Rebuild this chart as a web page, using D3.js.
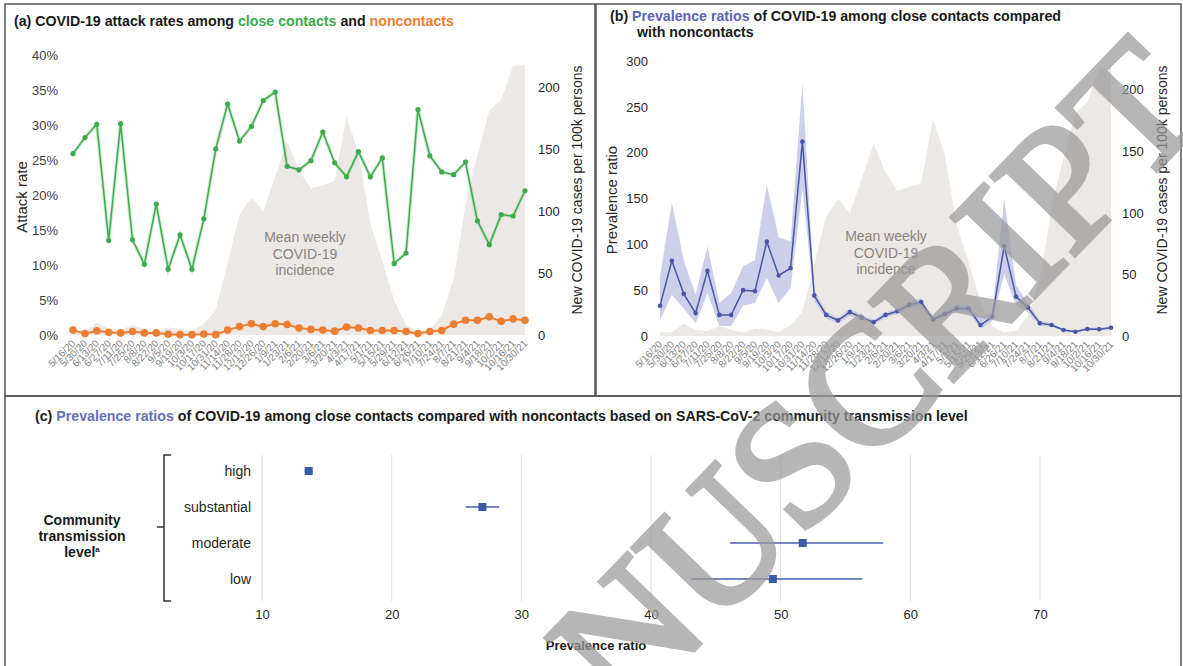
<!DOCTYPE html>
<html>
<head>
<meta charset="utf-8">
<script src="https://cdn.jsdelivr.net/npm/d3@7"></script>
<style>
body { margin: 0; background: #fff; }
svg text { font-family: "Liberation Sans", Arial, sans-serif; }
</style>
</head>
<body>
<script>
// biweekly periods
var dates = ["5/16/20","5/30/20","6/13/20","6/27/20","7/11/20","7/25/20","8/8/20","8/22/20","9/5/20","9/19/20",
  "10/3/20","10/17/20","10/31/20","11/14/20","11/28/20","12/12/20","12/26/20","1/9/21","1/23/21","2/6/21",
  "2/20/21","3/6/21","3/20/21","4/3/21","4/17/21","5/1/21","5/15/21","5/29/21","6/12/21","6/26/21",
  "7/10/21","7/24/21","8/7/21","8/21/21","9/4/21","9/18/21","10/2/21","10/16/21","10/30/21"];

// attack rates (%)
var closeContacts = [25.9,28.2,30.1,13.5,30.2,13.6,10.1,18.7,9.4,14.3,9.4,16.6,26.6,33.0,27.7,29.8,33.5,34.7,24.1,23.6,
  24.9,29.0,24.6,22.6,26.2,22.6,25.3,10.2,11.7,32.2,25.6,23.3,22.9,24.7,16.3,12.9,17.2,17.0,20.6];
var noncontacts = [0.7,0.2,0.6,0.4,0.3,0.5,0.3,0.3,0.1,0.05,0.05,0.15,0.05,0.7,1.2,1.6,1.2,1.6,1.5,1.0,
  0.8,0.7,0.55,1.15,1.0,0.65,0.65,0.65,0.5,0.2,0.5,0.65,1.55,2.1,2.1,2.6,1.95,2.3,2.1];

// mean weekly incidence per 100k
var incidence = [3,3,10,5,4,8,5,3,6,5,3,9,20,58,97,111,100,128,156,133,
  118,121,124,176,147,90,60,28,8,3,4,16,45,105,145,181,190,217,218];

// prevalence ratios and 95% CI
var prValue = [33,82,46,25,71,23,23,50,49,103,66,74,212,44,23,17,26,20,15,23,
  27,34,37,18,24,30,30,12,21,98,43,31,14,12,6.5,4.7,7.6,7.3,9];
var prLower = [17,45,30,14,47,11,11,33,36,63,36,52,160,38,19,14,22,17,12,20,
  24,30,33,15,21,26,26,8,16,68,33,26,11,10,5,3.5,6,6,7.5];
var prUpper = [65,145,83,45,98,36,47,76,83,165,108,103,276,50,27,20,30,23,18,26,
  30,38,41,21,27,34,34,20,27,150,55,36,17,14,8,6,9.5,9,11];

// panel c
var levels = ["high","substantial","moderate","low"];
var levelPR = [13.6,27.0,51.7,49.4];
var levelLow = [13.3,25.7,46.1,43.1];
var levelHigh = [13.9,28.3,57.9,56.3];
var prTicks = [10,20,30,40,50,60,70];

var W = 1183, H = 666;
var svg = d3.select("body").append("svg").attr("width", W).attr("height", H);

var green = "#3dab4b", orange = "#ed7d31", blue = "#4b56a5", areaFill = "#ece8e5";
var rows = dates.map(function(d, i) {
  return {date: d, cc: closeContacts[i], nc: noncontacts[i], inc: incidence[i],
          pr: prValue[i], lo: prLower[i], hi: prUpper[i]};
});

// borders
svg.append("rect").attr("x",5).attr("y",4).attr("width",590).attr("height",392)
  .attr("fill","none").attr("stroke","#555").attr("stroke-width",1.5);
svg.append("rect").attr("x",596).attr("y",4).attr("width",585).attr("height",392)
  .attr("fill","none").attr("stroke","#555").attr("stroke-width",1.5);
svg.append("rect").attr("x",5).attr("y",396).attr("width",1176).attr("height",290)
  .attr("fill","none").attr("stroke","#555").attr("stroke-width",1.5);

function dateLabels(g, x, y0) {
  g.selectAll("text.dl").data(dates).enter().append("text")
    .attr("class","dl")
    .attr("transform", function(d){ return "translate(" + (x(d)+3) + "," + y0 + ") rotate(-45)"; })
    .attr("text-anchor","end")
    .attr("font-size", 10)
    .attr("fill","#7f7f7f")
    .text(function(d){ return d; });
}

function styleAxis(g, size, color) {
  g.select(".domain").remove();
  g.selectAll("text").attr("font-size", size).attr("fill", color)
    .style("font-family", "'Liberation Sans', Arial, sans-serif");
}

// ---------- panel (a)
var ga = svg.append("g");
var xa = d3.scalePoint().domain(dates).range([73, 525]);
var ya = d3.scaleLinear().domain([0, 0.40]).range([335, 55]);
var yaR = d3.scaleLinear().domain([0, 225]).range([335, 56]);

ga.append("path").datum(rows)
  .attr("fill", areaFill)
  .attr("d", d3.area().x(function(d){ return xa(d.date); }).y0(yaR(0)).y1(function(d){ return yaR(d.inc); }));

ga.selectAll("text.mw").data(["Mean weekly","COVID-19","incidence"]).enter().append("text")
  .attr("x", 305).attr("y", function(d,i){ return 242 + i*16.5; })
  .attr("text-anchor","middle").attr("font-size", 14).attr("fill","#8b8382").text(function(d){ return d; });

var axL = ga.append("g").attr("transform","translate(60,0)")
  .call(d3.axisLeft(ya).tickValues(d3.range(0, 0.401, 0.05)).tickSize(0).tickPadding(2).tickFormat(d3.format(".0%")));
styleAxis(axL, 13, "#404040");
var axR = ga.append("g").attr("transform","translate(536,0)")
  .call(d3.axisRight(yaR).tickValues([0,50,100,150,200]).tickSize(0).tickPadding(2));
styleAxis(axR, 13, "#262626");

ga.append("text").attr("transform","translate(27,197) rotate(-90)").attr("text-anchor","middle")
  .attr("font-size",15).attr("fill","#262626").text("Attack rate");
ga.append("text").attr("transform","translate(582,190) rotate(-90)").attr("text-anchor","middle")
  .attr("font-size",14).attr("fill","#262626").text("New COVID-19 cases per 100k persons");

var lineCC = d3.line().x(function(d){ return xa(d.date); }).y(function(d){ return ya(d.cc/100); });
var lineNC = d3.line().x(function(d){ return xa(d.date); }).y(function(d){ return ya(d.nc/100); });
ga.append("path").datum(rows).attr("fill","none").attr("stroke","#9fd6a5").attr("stroke-width",3.5).attr("opacity",0.5).attr("d", lineCC);
ga.append("path").datum(rows).attr("fill","none").attr("stroke",green).attr("stroke-width",1.5).attr("d", lineCC);
ga.selectAll("circle.cc").data(rows).enter().append("circle")
  .attr("cx", function(d){ return xa(d.date); }).attr("cy", function(d){ return ya(d.cc/100); })
  .attr("r", 2.6).attr("fill", green);
ga.append("path").datum(rows).attr("fill","none").attr("stroke",orange).attr("stroke-width",2).attr("d", lineNC);
ga.selectAll("circle.nc").data(rows).enter().append("circle")
  .attr("cx", function(d){ return xa(d.date); }).attr("cy", function(d){ return ya(d.nc/100); })
  .attr("r", 3.8).attr("fill", orange);

dateLabels(ga, xa, 344);

var ta = ga.append("text").attr("x", 14).attr("y", 26).attr("font-size", 14.2).attr("font-weight","bold").attr("fill","#1a1a1a");
ta.append("tspan").text("(a) COVID-19 attack rates among ");
ta.append("tspan").attr("fill", green).text("close contacts");
ta.append("tspan").text(" and ");
ta.append("tspan").attr("fill", orange).text("noncontacts");

// ---------- panel (b)
var gb = svg.append("g");
var xb = d3.scalePoint().domain(dates).range([660, 1111]);
var yb = d3.scaleLinear().domain([0, 300]).range([336, 61]);
var ybR = d3.scaleLinear().domain([0, 225]).range([336, 59]);

gb.append("path").datum(rows)
  .attr("fill", areaFill)
  .attr("d", d3.area().x(function(d){ return xb(d.date); }).y0(ybR(0)).y1(function(d){ return ybR(d.inc); }));

gb.selectAll("text.mw").data(["Mean weekly","COVID-19","incidence"]).enter().append("text")
  .attr("x", 886).attr("y", function(d,i){ return 241 + i*16.5; })
  .attr("text-anchor","middle").attr("font-size", 14).attr("fill","#8b8382").text(function(d){ return d; });

gb.append("path").datum(rows)
  .attr("fill", "#c3c6e6").attr("opacity", 0.85)
  .attr("d", d3.area().x(function(d){ return xb(d.date); }).y0(function(d){ return yb(d.lo); }).y1(function(d){ return yb(d.hi); }));
gb.append("path").datum(rows).attr("fill","none").attr("stroke",blue).attr("stroke-width",1.5)
  .attr("d", d3.line().x(function(d){ return xb(d.date); }).y(function(d){ return yb(d.pr); }));
gb.selectAll("circle.pr").data(rows).enter().append("circle")
  .attr("cx", function(d){ return xb(d.date); }).attr("cy", function(d){ return yb(d.pr); })
  .attr("r", 2.3).attr("fill", blue);

var bxL = gb.append("g").attr("transform","translate(650,0)")
  .call(d3.axisLeft(yb).tickValues(d3.range(0, 301, 50)).tickSize(0).tickPadding(2));
styleAxis(bxL, 13, "#262626");
var bxR = gb.append("g").attr("transform","translate(1120,0)")
  .call(d3.axisRight(ybR).tickValues([0,50,100,150,200]).tickSize(0).tickPadding(2));
styleAxis(bxR, 13, "#262626");

gb.append("text").attr("transform","translate(617,200) rotate(-90)").attr("text-anchor","middle")
  .attr("font-size",15).attr("fill","#262626").text("Prevalence ratio");
gb.append("text").attr("transform","translate(1167,190) rotate(-90)").attr("text-anchor","middle")
  .attr("font-size",14).attr("fill","#262626").text("New COVID-19 cases per 100k persons");

dateLabels(gb, xb, 345);

var tb = gb.append("text").attr("x", 610).attr("y", 21).attr("font-size", 14.2).attr("font-weight","bold").attr("fill","#1a1a1a");
tb.append("tspan").text("(b) ");
tb.append("tspan").attr("fill", "#5b64b4").text("Prevalence ratios");
tb.append("tspan").text(" of COVID-19 among close contacts compared");
gb.append("text").attr("x", 637).attr("y", 37).attr("font-size", 14.2).attr("font-weight","bold").attr("fill","#1a1a1a")
  .text("with noncontacts");

// ---------- panel (c)
var gc = svg.append("g");
var xc = d3.scaleLinear().domain([10, 70]).range([262, 1040]);
var yc = d3.scalePoint().domain(levels).range([471, 579]);

gc.selectAll("line.grid").data(prTicks).enter().append("line")
  .attr("x1", function(d){ return xc(d); }).attr("x2", function(d){ return xc(d); })
  .attr("y1", 455).attr("y2", 601).attr("stroke", "#e4dcdc").attr("stroke-width", 1);

var cx = gc.append("g").attr("transform","translate(0,606)")
  .call(d3.axisBottom(xc).tickValues(prTicks).tickSize(0).tickPadding(4));
styleAxis(cx, 13, "#262626");

var cy = gc.append("g").attr("transform","translate(251,0)")
  .call(d3.axisLeft(yc).tickSize(0).tickPadding(0));
styleAxis(cy, 14, "#262626");
cy.selectAll("text").attr("dy", "0.35em");

gc.append("path").attr("d", "M171,455H164V601H171M164,527H157")
  .attr("fill","none").attr("stroke","#333").attr("stroke-width",1.5);

var ct = gc.append("text").attr("x", 82).attr("y", 525).attr("text-anchor","middle")
  .attr("font-size", 14).attr("font-weight","bold").attr("fill","#1a1a1a");
ct.append("tspan").attr("x", 82).text("Community");
ct.append("tspan").attr("x", 82).attr("dy", 16).text("transmission");
ct.append("tspan").attr("x", 82).attr("dy", 16).text("level");
ct.append("tspan").attr("font-size", 8).attr("dy", -5).text("a");

gc.selectAll("line.ci").data(levels).enter().append("line")
  .attr("x1", function(d,i){ return xc(levelLow[i]); }).attr("x2", function(d,i){ return xc(levelHigh[i]); })
  .attr("y1", function(d){ return yc(d); }).attr("y2", function(d){ return yc(d); })
  .attr("stroke", "#4a5cab").attr("stroke-width", 1.5);
gc.selectAll("rect.pt").data(levels).enter().append("rect")
  .attr("x", function(d,i){ return xc(levelPR[i]) - 4; }).attr("y", function(d){ return yc(d) - 4; })
  .attr("width", 8).attr("height", 8).attr("fill", "#3a5ca6");

gc.append("text").attr("x", 596).attr("y", 650).attr("text-anchor","middle")
  .attr("font-size", 13).attr("font-weight","bold").attr("fill","#1a1a1a").text("Prevalence ratio");

var tc = gc.append("text").attr("x", 35).attr("y", 421).attr("font-size", 14.2).attr("font-weight","bold").attr("fill","#1a1a1a");
tc.append("tspan").text("(c) ");
tc.append("tspan").attr("fill", "#6470b8").text("Prevalence ratios");
tc.append("tspan").text(" of COVID-19 among close contacts compared with noncontacts based on SARS-CoV-2 community transmission level");

// watermark
svg.append("text")
  .attr("transform", "translate(429,924) rotate(-46)")
  .attr("font-size", 175)
  .style("font-family", "'Liberation Serif', 'DejaVu Serif', serif")
  .attr("fill", "#9a9a9a").attr("stroke", "#9a9a9a").attr("stroke-width", 5)
  .attr("opacity", 0.72)
  .text("MANUSCRIPT");
</script>
</body>
</html>
